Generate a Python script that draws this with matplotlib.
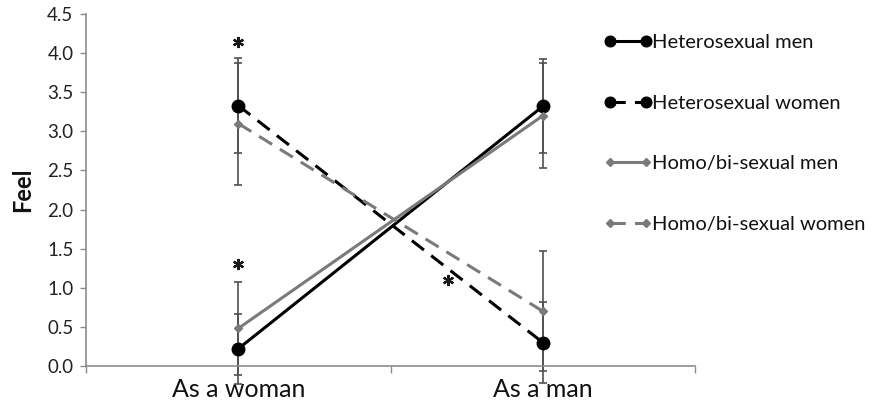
import matplotlib
matplotlib.use('Agg')
import matplotlib.pyplot as plt
from matplotlib.lines import Line2D

plt.rcParams['font.family'] = ['Lato', 'DejaVu Sans']

categories = ['As a woman', 'As a man']
series = ['Heterosexual men', 'Heterosexual women',
          'Homo/bi-sexual men', 'Homo/bi-sexual women']
means = {
    'Heterosexual men': [0.22, 3.32],
    'Heterosexual women': [3.33, 0.30],
    'Homo/bi-sexual men': [0.48, 3.20],
    'Homo/bi-sexual women': [3.10, 0.70],
}
errors = {
    'Heterosexual men': [0.45, 0.60],
    'Heterosexual women': [0.61, 0.52],
    'Homo/bi-sexual men': [0.60, 0.67],
    'Homo/bi-sexual women': [0.78, 0.77],
}
# significance marks: (category position, height)
star_x = [0, 0, 0.69]
star_y = [4.14, 1.30, 1.10]

dash = (0, (5.0, 3.0))
styles = {
    'Heterosexual men': dict(color='black', ls='-', marker='o', ms=9),
    'Heterosexual women': dict(color='black', ls=dash, marker='o', ms=9),
    'Homo/bi-sexual men': dict(color='#7a7a7a', ls='-', marker='D', ms=4.5),
    'Homo/bi-sexual women': dict(color='#7a7a7a', ls=dash, marker='D', ms=4.5),
}

fig = plt.figure(figsize=(8.81, 4.12), dpi=100)
ax = fig.add_axes([0.0976, 0.1117, 0.6914, 0.8543])

x = list(range(len(categories)))
axis_grey = '#8c8c8c'

for name in series:
    st = styles[name]
    ax.errorbar(x, means[name], yerr=errors[name], fmt='none',
                ecolor='#505050', elinewidth=1.2, capsize=3, capthick=1.2,
                clip_on=False, zorder=2)
    ax.plot(x, means[name], color=st['color'], ls=st['ls'], lw=2.2,
            marker=st['marker'], ms=st['ms'], mfc=st['color'],
            mec=st['color'], clip_on=False, zorder=3)

# asterisks as six-armed star markers so they sit exactly on their heights
ax.plot(star_x, star_y, ls='none', marker=(6, 2, 0), ms=8, mew=1.6,
        color='#1a1a1a', zorder=4)

ax.set_xlim(-0.5, 1.5)
ax.set_ylim(0, 4.5)
ax.set_yticks([i * 0.5 for i in range(10)])
ax.set_yticklabels([f'{i * 0.5:.1f}' for i in range(10)])
ax.set_xticks([-0.5, 0.5, 1.5])
ax.set_xticklabels([])
ax.set_xticks(x, minor=True)
ax.set_xticklabels(categories, minor=True, fontsize=18, color='#111111')
ax.tick_params(axis='x', which='minor', length=0, pad=9)
ax.tick_params(axis='x', which='major', length=5, color=axis_grey, width=1)
ax.tick_params(axis='y', length=4, color=axis_grey, width=1, labelsize=13.5,
               labelcolor='#222222', pad=5)
ax.set_ylabel('Feel', fontsize=17, fontweight='bold', labelpad=9,
              color='#111111')

for side in ['top', 'right']:
    ax.spines[side].set_visible(False)
for side in ['left', 'bottom']:
    ax.spines[side].set_color(axis_grey)
    ax.spines[side].set_linewidth(1.2)

handles = []
for name in series:
    st = styles[name]
    handles.append(Line2D([], [], color=st['color'], ls=st['ls'], lw=2.2,
                          marker=st['marker'], ms=st['ms'] * 0.85))
fig.legend(handles, series, loc='upper left', bbox_to_anchor=(0.665, 0.962),
           frameon=False, numpoints=2, handlelength=2.4, handletextpad=0.0,
           labelspacing=2.17, fontsize=14.5, labelcolor='#111111')

fig.savefig('out.png', dpi=100)
